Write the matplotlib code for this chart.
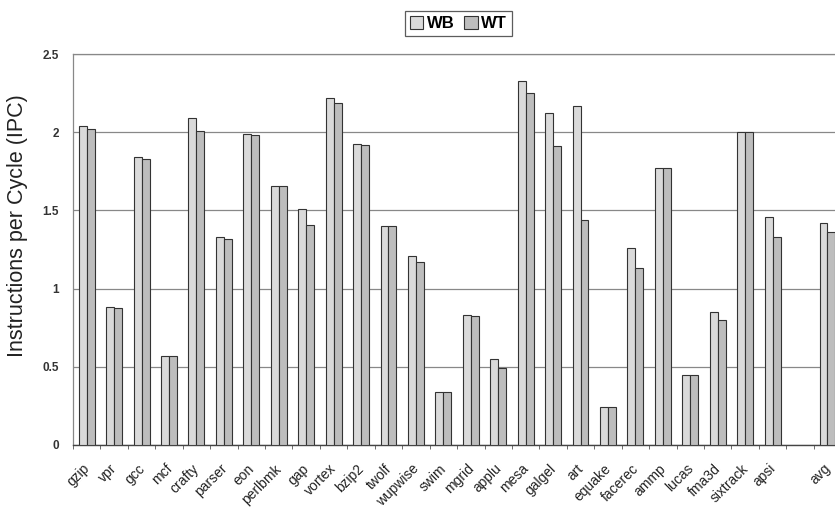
import numpy as np
import matplotlib
matplotlib.use("Agg")
import matplotlib.pyplot as plt
from matplotlib.ticker import FixedLocator
from matplotlib.transforms import ScaledTranslation

plt.rcParams['font.family'] = ['Liberation Sans', 'DejaVu Sans']

benchmarks = ["gzip", "vpr", "gcc", "mcf", "crafty", "parser", "eon", "perlbmk",
              "gap", "vortex", "bzip2", "twolf", "wupwise", "swim", "mgrid",
              "applu", "mesa", "galgel", "art", "equake", "facerec", "ammp",
              "lucas", "fma3d", "sixtrack", "apsi", "", "avg"]

wb_ipc = [2.04, 0.88, 1.84, 0.57, 2.09, 1.33, 1.99, 1.655,
          1.51, 2.22, 1.925, 1.40, 1.21, 0.34, 0.83,
          0.55, 2.33, 2.12, 2.165, 0.24, 1.26, 1.77,
          0.45, 0.85, 2.00, 1.455, np.nan, 1.42]
wt_ipc = [2.02, 0.875, 1.83, 0.57, 2.01, 1.32, 1.985, 1.655,
          1.41, 2.19, 1.92, 1.40, 1.17, 0.34, 0.825,
          0.49, 2.25, 1.91, 1.44, 0.24, 1.13, 1.77,
          0.45, 0.80, 2.00, 1.33, np.nan, 1.36]

fig = plt.figure(figsize=(8.35, 5.15), dpi=100)
ax = fig.add_axes([0.0874, 0.136, 0.92, 0.759])

x = np.arange(len(benchmarks))
w = 0.29
edge = "#333333"
ax.bar(x - w / 2, wb_ipc, w, color="#dadada", edgecolor=edge, linewidth=0.8,
       label="WB", zorder=3)
ax.bar(x + w / 2, wt_ipc, w, color="#bdbdbd", edgecolor=edge, linewidth=0.8,
       label="WT", zorder=3)

ax.set_xlim(-0.5, len(benchmarks) - 0.5)
ax.set_ylim(0, 2.5)
ax.set_yticks([0, 0.5, 1, 1.5, 2, 2.5])
ax.set_yticklabels(["0", "0.5", "1", "1.5", "2", "2.5"], fontsize=8.5,
                   fontweight="bold", color="#333333")
ax.yaxis.grid(True, color="#888888", linewidth=0.9, zorder=0)
ax.tick_params(axis="y", length=0, pad=10)

ax.set_xticks(x)
ax.set_xticklabels(benchmarks, rotation=45, ha="right", rotation_mode="anchor",
                   fontsize=10, color="#222222")
ax.tick_params(axis="x", which="major", length=0, pad=12)
shift = ScaledTranslation(-3 / 72, 0, fig.dpi_scale_trans)
for lbl in ax.get_xticklabels():
    lbl.set_transform(lbl.get_transform() + shift)
ax.xaxis.set_minor_locator(FixedLocator(np.arange(-0.5, len(benchmarks), 1.0)))
ax.tick_params(axis="x", which="minor", length=3, color="#555555", direction="out")

for side in ("left", "top"):
    ax.spines[side].set_color("#888888")
    ax.spines[side].set_linewidth(0.9)
ax.spines["bottom"].set_color("#444444")
ax.spines["bottom"].set_linewidth(1.0)
ax.spines["right"].set_visible(False)

ax.set_ylabel("Instructions per Cycle (IPC)", fontsize=15.5, color="#222222")
ax.yaxis.set_label_coords(-0.058, 0.56)

leg = fig.legend(loc="upper center", bbox_to_anchor=(0.549, 0.995), ncol=2,
                 frameon=True, fancybox=False, edgecolor="#333333",
                 fontsize=12, handlelength=0.8, handleheight=0.8,
                 handletextpad=0.2, columnspacing=0.6, borderpad=0.3)
leg.get_frame().set_linewidth(0.9)
for t in leg.get_texts():
    t.set_fontweight("bold")

fig.savefig("out.png", dpi=100, facecolor="white")
